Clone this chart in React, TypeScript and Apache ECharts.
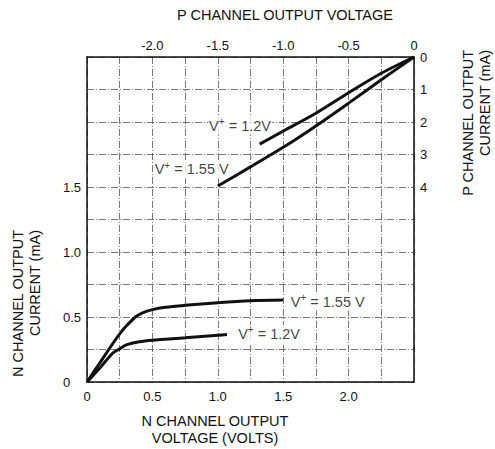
import React, { useEffect, useRef } from "react";
import * as echarts from "echarts";

// N channel (bottom / left axes): [voltage V, current mA]
const nVplus155: number[][] = [
  [0, 0], [0.1, 0.15], [0.2, 0.3], [0.25, 0.37], [0.3, 0.43], [0.37, 0.5],
  [0.42, 0.53], [0.5, 0.557], [0.6, 0.575], [0.75, 0.59], [1.0, 0.61], [1.25, 0.625], [1.5, 0.63],
];
const nVplus12: number[][] = [
  [0, 0], [0.1, 0.11], [0.2, 0.225], [0.25, 0.255], [0.3, 0.285], [0.4, 0.31],
  [0.5, 0.322], [0.75, 0.34], [1.0, 0.36], [1.07, 0.365],
];
// P channel (top / right axes): [voltage V, current mA]
const pVplus12: number[][] = [
  [0, 0], [-0.25, 0.5], [-0.5, 1.1], [-0.75, 1.73], [-1.0, 2.28], [-1.18, 2.68],
];
const pVplus155: number[][] = [
  [0, 0], [-0.25, 0.7], [-0.5, 1.42], [-0.75, 2.12], [-1.0, 2.78], [-1.25, 3.38], [-1.5, 3.97],
];

// curve label anchors (left edge of label)
const nLabels = [
  { text: "1.55 V", at: [1.55, 0.617] },
  { text: "1.2V", at: [1.148, 0.37] },
];
const pLabels = [
  { text: "1.2V", at: [-1.574, 2.12] },
  { text: "1.55 V", at: [-1.99, 3.46] },
];

// tick labels
const bottomTickValues = [0, 0.5, 1.0, 1.5, 2.0];
const bottomTickLabels = ["0", "0.5", "1.0", "1.5", "2.0"];
const topTickValues = [-2.0, -1.5, -1.0, -0.5, 0];
const topTickLabels = ["-2.0", "-1.5", "-1.0", "-0.5", "0"];
const leftTickValues = [0, 0.5, 1.0, 1.5];
const leftTickLabels = ["0", "0.5", "1.0", "1.5"];
const rightTickValues = [0, 1, 2, 3, 4];
const rightTickLabels = ["0", "1", "2", "3", "4"];

const FONT = "'Liberation Sans', Arial, Helvetica, sans-serif";

function fmt(values: number[], labels: string[]) {
  return (v: number) => {
    for (let i = 0; i < values.length; i++) {
      if (Math.abs(values[i] - v) < 1e-6) return labels[i];
    }
    return "";
  };
}

const gridLine = {
  show: true,
  lineStyle: { color: "#555", width: 0.8, type: [7, 2, 1, 2] as any },
};
const axisLineStyle = { show: true, lineStyle: { color: "#111", width: 1.5 } };
const labelBase = { color: "#111", fontFamily: FONT, fontSize: 13 };

const richLabel = {
  v: { fontFamily: FONT, fontSize: 14.5, color: "#111", lineHeight: 18 },
  s: { fontFamily: FONT, fontSize: 10, color: "#111", verticalAlign: "top", lineHeight: 18 },
};

export default function App() {
  const ref = useRef<HTMLDivElement>(null);
  useEffect(() => {
    if (!ref.current) return;
    const chart = echarts.init(ref.current, undefined, { renderer: "svg" });
    const lineSeries = (data: number[][], xi: number, yi: number) => ({
      type: "line",
      data,
      xAxisIndex: xi,
      yAxisIndex: yi,
      smooth: 0.3,
      showSymbol: false,
      symbol: "none",
      lineStyle: { color: "#111", width: 3 },
      z: 6,
    });
    const labelSeries = (items: { text: string; at: number[] }[], xi: number, yi: number) => ({
      type: "scatter",
      xAxisIndex: xi,
      yAxisIndex: yi,
      symbolSize: 0,
      silent: true,
      z: 4,
      data: items.map((it) => ({
        value: it.at,
        label: {
          show: true,
          position: "right",
          distance: 0,
          backgroundColor: "#fff",
          padding: [0, 1, 0, 1],
          formatter: `{v|V}{s|+}{v| = ${it.text}}`,
          rich: richLabel,
        },
      })),
    });
    const titleStyle = { fontFamily: FONT, fontSize: 14.5, lineHeight: 17, fill: "#111" };
    chart.setOption({
      animation: false,
      backgroundColor: "#fff",
      grid: { left: 87, top: 57, width: 327, height: 325, show: false },
      xAxis: [
        {
          type: "value", position: "bottom", min: 0, max: 2.5, interval: 0.25,
          axisLine: axisLineStyle, axisTick: { show: false }, splitLine: gridLine,
          axisLabel: { ...labelBase, margin: 8, formatter: fmt(bottomTickValues, bottomTickLabels), showMinLabel: true, showMaxLabel: true },
        },
        {
          type: "value", position: "top", min: -2.5, max: 0, interval: 0.25,
          axisLine: axisLineStyle, axisTick: { show: false }, splitLine: { show: false },
          axisLabel: { ...labelBase, margin: 5, formatter: fmt(topTickValues, topTickLabels), showMinLabel: true, showMaxLabel: true },
        },
      ],
      yAxis: [
        {
          type: "value", position: "left", min: 0, max: 2.5, interval: 0.25,
          axisLine: axisLineStyle, axisTick: { show: false }, splitLine: gridLine,
          axisLabel: { ...labelBase, margin: 24, align: "left", formatter: fmt(leftTickValues, leftTickLabels), showMinLabel: true },
        },
        {
          type: "value", position: "right", min: 0, max: 10, interval: 1, inverse: true,
          axisLine: axisLineStyle, axisTick: { show: false }, splitLine: { show: false },
          axisLabel: { ...labelBase, margin: 6, formatter: fmt(rightTickValues, rightTickLabels), showMinLabel: true },
        },
      ],
      series: [
        lineSeries(nVplus155, 0, 0),
        lineSeries(nVplus12, 0, 0),
        lineSeries(pVplus12, 1, 1),
        lineSeries(pVplus155, 1, 1),
        labelSeries(nLabels, 0, 0),
        labelSeries(pLabels, 1, 1),
      ],
      graphic: [
        {
          type: "text", x: 285, y: 15,
          style: { ...titleStyle, text: "P CHANNEL OUTPUT VOLTAGE", align: "center", verticalAlign: "middle" },
        },
        {
          type: "text", x: 215, y: 412,
          style: { ...titleStyle, text: "N CHANNEL OUTPUT\nVOLTAGE (VOLTS)", align: "center", verticalAlign: "top" },
        },
        {
          type: "text", x: 9, y: 230, rotation: Math.PI / 2,
          style: { ...titleStyle, text: "N CHANNEL OUTPUT\nCURRENT (mA)", align: "right", verticalAlign: "top" },
        },
        {
          type: "text", x: 459, y: 50, rotation: Math.PI / 2,
          style: { ...titleStyle, text: "P CHANNEL OUTPUT\nCURRENT (mA)", align: "right", verticalAlign: "top" },
        },
      ],
    });
    return () => chart.dispose();
  }, []);
  return (
    <div
      ref={ref}
      style={{ position: "fixed", left: 0, top: 0, width: 495, height: 449, background: "#fff" }}
    />
  );
}
